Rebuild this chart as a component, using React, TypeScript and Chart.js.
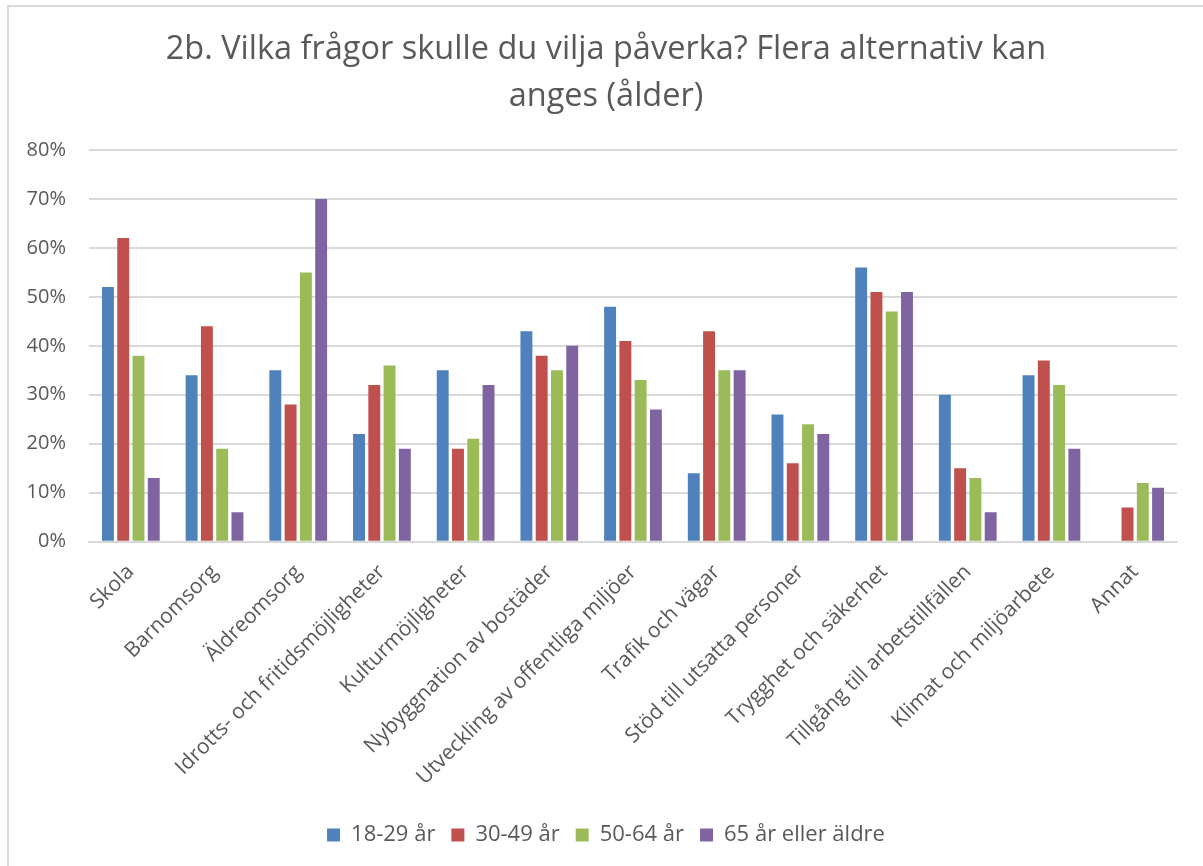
import React, { useEffect, useRef } from "react";
import { Chart, registerables } from "chart.js";

Chart.register(...registerables);

const categories = [
  "Skola",
  "Barnomsorg",
  "Äldreomsorg",
  "Idrotts- och fritidsmöjligheter",
  "Kulturmöjligheter",
  "Nybyggnation av bostäder",
  "Utveckling av offentliga miljöer",
  "Trafik och vägar",
  "Stöd till utsatta personer",
  "Trygghet och säkerhet",
  "Tillgång till arbetstillfällen",
  "Klimat och miljöarbete",
  "Annat",
];

const age18to29 = [52, 34, 35, 22, 35, 43, 48, 14, 26, 56, 30, 34, null];
const age30to49 = [62, 44, 28, 32, 19, 38, 41, 43, 16, 51, 15, 37, 7];
const age50to64 = [38, 19, 55, 36, 21, 35, 33, 35, 24, 47, 13, 32, 12];
const age65plus = [13, 6, 70, 19, 32, 40, 27, 35, 22, 51, 6, 19, 11];

const seriesNames = ["18-29 år", "30-49 år", "50-64 år", "65 år eller äldre"];
const seriesColors = ["#4f81bd", "#c0504d", "#9bbb59", "#8064a2"];
const yTicks = [0, 10, 20, 30, 40, 50, 60, 70, 80];

const titleLines = [
  "2b. Vilka frågor skulle du vilja påverka? Flera alternativ kan",
  "anges (ålder)",
];

const FONT = "'Open Sans', 'DejaVu Sans', sans-serif";
const TEXT = "#595959";

export default function App() {
  const ref = useRef<HTMLCanvasElement | null>(null);

  useEffect(() => {
    if (!ref.current) return;
    const values = [age18to29, age30to49, age50to64, age65plus];
    const chart = new Chart(ref.current, {
      type: "bar",
      data: {
        labels: categories,
        datasets: values.map((v, i) => ({
          label: seriesNames[i],
          data: v,
          backgroundColor: seriesColors[i],
          borderWidth: 0,
          barPercentage: 0.78,
          categoryPercentage: 0.73,
        })),
      },
      options: {
        responsive: false,
        animation: false,
        maintainAspectRatio: false,
        layout: { padding: { left: 17, right: 8, top: 14, bottom: 10 } },
        plugins: {
          title: {
            display: true,
            text: titleLines,
            color: TEXT,
            font: { family: FONT, size: 32.5, weight: "normal", lineHeight: 1.446 },
            padding: { top: 12.5, bottom: 29.5 },
          },
          legend: {
            position: "bottom",
            labels: {
              color: TEXT,
              font: { family: FONT, size: 22 },
              boxWidth: 13,
              boxHeight: 13,
              padding: 16,
            },
          },
          tooltip: { enabled: false },
        },
        scales: {
          x: {
            grid: { display: false, drawTicks: false },
            border: { color: "#d9d9d9", width: 2 },
            ticks: {
              color: TEXT,
              font: { family: FONT, size: 21 },
              maxRotation: 45,
              minRotation: 45,
              autoSkip: false,
              padding: 18,
            },
          },
          y: {
            min: 0,
            max: 80,
            afterBuildTicks: (axis: any) => {
              axis.ticks = yTicks.map((v) => ({ value: v }));
            },
            afterFit: (axis: any) => {
              axis.width = 72;
            },
            grid: { color: "#d9d9d9", lineWidth: 2, drawTicks: false },
            border: { display: false },
            ticks: {
              color: TEXT,
              font: { family: FONT, size: 20 },
              padding: 23,
              callback: (v: any) => v + "%",
            },
          },
          yRightSpacer: {
            type: "linear",
            position: "right",
            min: 0,
            max: 80,
            afterFit: (axis: any) => {
              axis.width = 18;
            },
            grid: { display: false, drawTicks: false },
            border: { display: false },
            ticks: { display: false },
          },
        },
      },
    });
    return () => chart.destroy();
  }, []);

  return (
    <div
      style={{
        position: "fixed",
        left: 0,
        top: 0,
        width: 1203,
        height: 866,
        background: "#ffffff",
        overflow: "hidden",
      }}
    >
      <div
        style={{
          position: "absolute",
          left: 7,
          top: 5,
          width: 1220,
          height: 900,
          borderLeft: "2px solid #d9d9d9",
          borderTop: "2px solid #d9d9d9",
        }}
      />
      <canvas
        ref={ref}
        width={1203}
        height={866}
        style={{ position: "absolute", left: 0, top: 0 }}
      />
    </div>
  );
}
